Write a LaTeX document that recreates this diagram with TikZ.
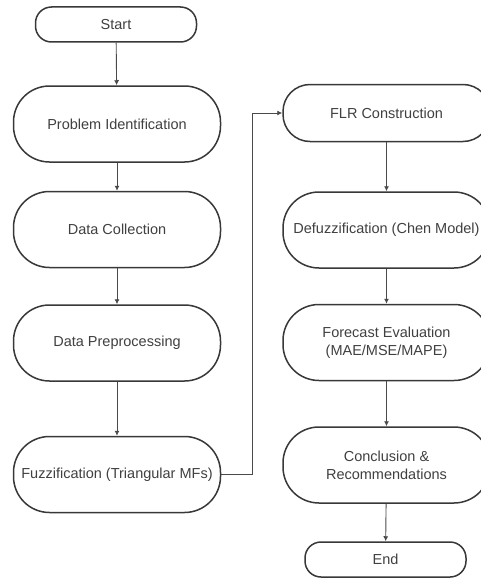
\documentclass[tikz,border=0pt]{standalone}
\usepackage{fontspec}
\setmainfont{Liberation Sans}
\usetikzlibrary{arrows.meta}
\definecolor{bord}{HTML}{383838}
\definecolor{txt}{HTML}{404040}
\definecolor{conn}{HTML}{4A4A4A}
\begin{document}
\begin{tikzpicture}[x=1pt,y=-1pt,
  big/.style={draw=bord, line width=1.5pt, fill=white, minimum width=207pt, minimum height=76pt,
    rounded corners=36pt, inner sep=0pt, text=txt, align=center,
    font=\fontsize{14.5}{18}\selectfont},
  flrbox/.style={big, minimum height=57pt, rounded corners=27pt},
  term/.style={big, minimum width=161pt, minimum height=35pt, rounded corners=16pt},
  arr/.style={draw=conn, line width=0.9pt, -{Latex[length=5pt,width=5pt]}}]
\useasboundingbox (0,0) rectangle (480,578);
\node[term] (start) at (116,24.5) {Start};
\node[big] (pi) at (117,124) {Problem Identification};
\node[big] (dc) at (117,229.5) {Data Collection};
\node[big] (dp) at (117,343) {Data Preprocessing};
\node[big] (fz) at (117,474.5) {Fuzzification (Triangular MFs)};
\node[flrbox] (flr) at (386.5,113) {FLR Construction};
\node[big] (df) at (386.5,230) {Defuzzification (Chen Model)};
\node[big] (fe) at (386.5,342.5) {Forecast Evaluation\\(MAE/MSE/MAPE)};
\node[big] (cr) at (386.5,465) {Conclusion \&\\Recommendations};
\node[term] (end) at (385.5,559.5) {End};
\coordinate (bend) at (252,474.5);
\draw[arr] (start) -- (pi);
\draw[arr] (pi) -- (dc);
\draw[arr] (dc) -- (dp);
\draw[arr] (dp) -- (fz);
\draw[arr] (fz.east) -- (bend) |- (flr.west);
\draw[arr] (flr) -- (df);
\draw[arr] (df) -- (fe);
\draw[arr] (fe) -- (cr);
\draw[arr] (cr) -- (end);
\end{tikzpicture}
\end{document}
